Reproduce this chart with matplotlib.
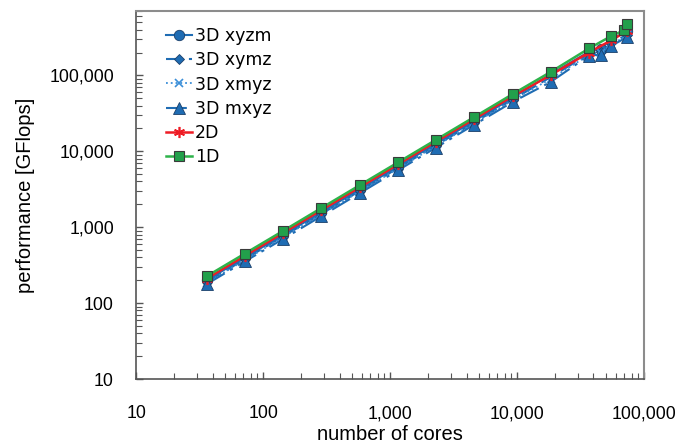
import numpy as np
import matplotlib
matplotlib.use("Agg")
import matplotlib.pyplot as plt
from matplotlib.ticker import FuncFormatter, LogLocator, NullFormatter

plt.rcParams['font.family'] = ['Liberation Sans', 'DejaVu Sans']

# number of cores
cores = [36, 72, 144, 288, 576, 1152, 2304, 4608, 9216, 18432, 36864]
cores_3d = cores + [46080, 55296, 73728]
cores_2d = cores + [55296, 73728]
cores_1d = cores + [55296, 69120, 73728]

# performance [GFlops]
perf_xyzm = [200, 400, 790, 1580, 3150, 6300, 12600, 25200, 50500, 104000, 205000, 225000, 300000, 380000]
perf_xymz = [190, 380, 760, 1500, 3000, 6000, 12000, 24000, 48000, 95000, 192000, 205000, 265000, 345000]
perf_xmyz = [185, 370, 740, 1480, 2950, 5900, 11800, 23500, 47000, 90000, 186000, 198000, 255000, 335000]
perf_mxyz = [178, 355, 700, 1400, 2800, 5600, 11200, 22400, 44500, 82000, 182000, 188000, 245000, 320000]
perf_2d = [210, 420, 840, 1680, 3350, 6700, 13400, 26700, 53000, 101000, 200000, 290000, 385000]
perf_1d = [226, 450, 895, 1790, 3570, 7120, 14200, 28300, 56500, 111000, 226000, 330000, 390000, 470000]

blue = '#1f6cb3'
dark = '#3a3a3a'

fig = plt.figure(figsize=(6.91, 4.48), dpi=100)
ax = fig.add_axes([0.197, 0.154, 0.735, 0.821])

ax.plot(cores_3d, perf_xyzm, '-', color=blue, lw=1.5, marker='o', ms=7.5,
        mfc=blue, mec='#1a3f6a', mew=0.6, label='3D xyzm')
ax.plot(cores_3d, perf_xymz, '-', color=blue, lw=1.5, marker='D', ms=5,
        mfc=blue, mec='#1a3f6a', mew=0.6, dashes=(8, 3), label='3D xymz')
ax.plot(cores_3d, perf_xmyz, ':', color='#3b8fd8', lw=1.3, marker='x', ms=6,
        mec='#3b8fd8', mew=1.2, label='3D xmyz')
ax.plot(cores_3d, perf_mxyz, '-.', color=blue, lw=1.5, marker='^', ms=8.5,
        mfc=blue, mec='#1a3f6a', mew=0.6, dashes=(10, 3, 1.5, 3), label='3D mxyz')
ax.plot(cores_2d, perf_2d, '-', color='#ee1c25', lw=1.8, marker=(6, 2, 0), ms=8,
        mec='#ee1c25', mew=1.2, label='2D')
ax.plot(cores_1d, perf_1d, '-', color='#2db34a', lw=1.8, marker='s', ms=7.5,
        mfc='#22a04b', mec=dark, mew=0.8, label='1D')

ax.set_xscale('log')
ax.set_yscale('log')
ax.set_xlim(10, 100000)
ax.set_ylim(10, 700000)

fmt = FuncFormatter(lambda v, p: '{:,.0f}'.format(v))
ax.xaxis.set_major_formatter(fmt)
ax.yaxis.set_major_formatter(fmt)
ax.xaxis.set_major_locator(LogLocator(base=10, numticks=10))
ax.yaxis.set_major_locator(LogLocator(base=10, numticks=10))
ax.xaxis.set_minor_locator(LogLocator(base=10, subs=np.arange(2, 10), numticks=20))
ax.yaxis.set_minor_locator(LogLocator(base=10, subs=np.arange(2, 10), numticks=20))
ax.xaxis.set_minor_formatter(NullFormatter())
ax.yaxis.set_minor_formatter(NullFormatter())

ax.tick_params(which='both', direction='in', colors='#555555', labelcolor='black',
               labelsize=12.8)
ax.tick_params(which='major', length=5, width=1)
ax.tick_params(which='minor', length=4, width=0.8)
ax.tick_params(axis='x', which='major', pad=19)
ax.tick_params(axis='y', which='major', pad=16)

for s in ['left', 'bottom']:
    ax.spines[s].set_color('#555555')
    ax.spines[s].set_linewidth(1.2)
for s in ['top', 'right']:
    ax.spines[s].set_color('#8c8c8c')
    ax.spines[s].set_linewidth(1.5)

ax.set_xlabel('number of cores', fontsize=14.5, labelpad=2)
ax.set_ylabel('performance [GFlops]', fontsize=14.5, labelpad=10)

ax.legend(loc='upper left', frameon=False, prop={'family': 'DejaVu Sans', 'size': 12.5},
          handlelength=1.5, handletextpad=0.15, labelspacing=0.36, borderaxespad=0.3,
          bbox_to_anchor=(0.035, 0.99))

fig.savefig('out.png', dpi=100)
